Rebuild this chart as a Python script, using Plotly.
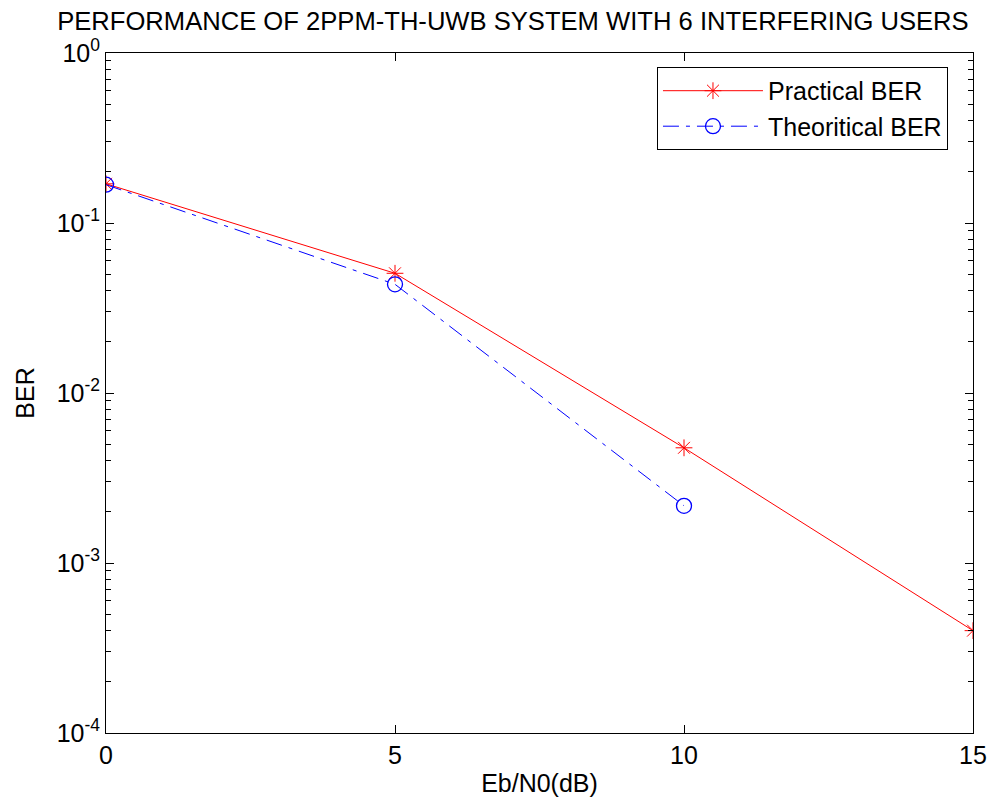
import plotly.graph_objects as go

ebn0 = [0, 5, 10, 15]
ber_practical = [0.170, 0.0506, 0.00476, 0.000400]
ebn0_theory = [0, 5, 10]
ber_theory = [0.168, 0.0436, 0.00217]

ytick_vals = [1e-4, 1e-3, 1e-2, 1e-1, 1]
ytick_text = ["10<sup>-4</sup>", "10<sup>-3</sup>", "10<sup>-2</sup>", "10<sup>-1</sup>", "10<sup>0</sup>"]
xtick_vals = [0, 5, 10, 15]

font_family = "Liberation Sans, Arial, sans-serif"

fig = go.Figure()
fig.add_trace(go.Scatter(
    x=ebn0, y=ber_practical, mode="lines+markers", name="Practical BER",
    line=dict(color="red", width=1),
    marker=dict(symbol="asterisk-open", size=14, color="red", line=dict(color="red", width=1)),
))
fig.add_trace(go.Scatter(
    x=ebn0_theory, y=ber_theory, mode="lines+markers", name="Theoritical BER",
    line=dict(color="blue", width=1, dash="16px,7px,4px,7px"),
    marker=dict(symbol="circle-open", size=15, color="blue", line=dict(color="blue", width=1.3)),
))

fig.update_layout(
    width=992, height=797,
    paper_bgcolor="white", plot_bgcolor="white",
    margin=dict(l=98, r=27, t=45, b=70),
    font=dict(family=font_family, size=26, color="black"),
    title=dict(text="PERFORMANCE OF 2PPM-TH-UWB SYSTEM WITH 6 INTERFERING USERS",
               xref="container", x=0.509, xanchor="center",
               yref="container", y=0.9837, yanchor="middle",
               font=dict(size=25.6, family=font_family, color="black")),
    showlegend=True,
    legend=dict(x=0.6355, y=0.9795, xanchor="left", yanchor="top",
                bgcolor="white", bordercolor="black", borderwidth=1,
                font=dict(size=25), itemwidth=100, tracegroupgap=4),
)
fig.update_xaxes(
    range=[0, 15], tickvals=xtick_vals, ticks="inside", ticklen=8, tickcolor="black",
    showline=True, linecolor="black", linewidth=1, mirror="ticks",
    showgrid=False, zeroline=False,
    title=dict(text="Eb/N0(dB)", standoff=6, font=dict(size=25)),
    tickfont=dict(size=25),
)
fig.update_yaxes(
    type="log", range=[-4, 0], tickvals=ytick_vals, ticktext=ytick_text,
    ticks="inside", ticklen=8, tickcolor="black",
    minor=dict(ticks="inside", ticklen=5, tickcolor="black", dtick="D1", showgrid=False),
    showline=True, linecolor="black", linewidth=1, mirror="ticks",
    showgrid=False, zeroline=False,
    title=dict(text="BER", standoff=14, font=dict(size=25)),
    tickfont=dict(size=25),
)

fig.write_html("out.html")
